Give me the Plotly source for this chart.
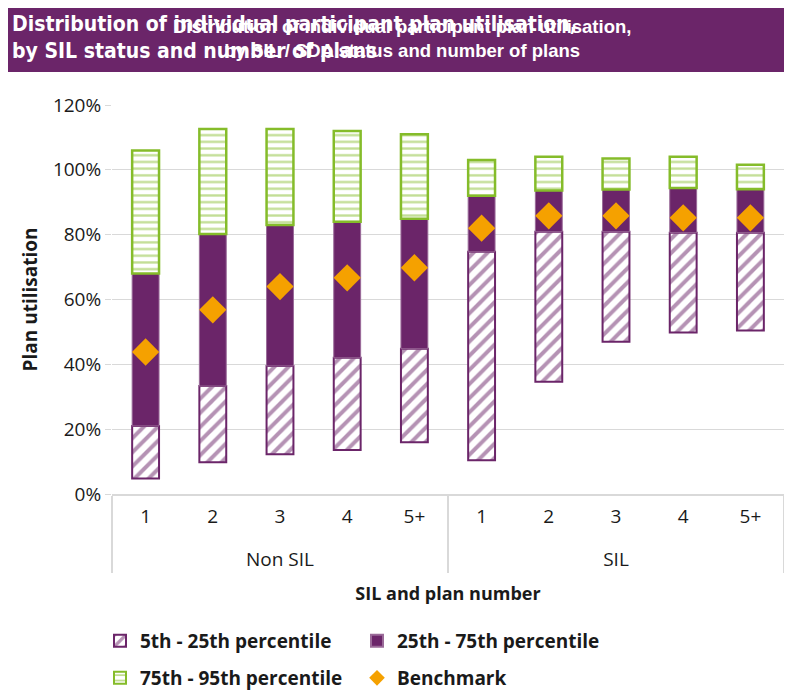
import plotly.graph_objects as go

groups = ["Non SIL"] * 5 + ["SIL"] * 5
plans = ["1", "2", "3", "4", "5+"] * 2

p5 = [0.048, 0.098, 0.123, 0.136, 0.160, 0.104, 0.346, 0.470, 0.498, 0.504]
p25 = [0.210, 0.333, 0.395, 0.420, 0.448, 0.747, 0.809, 0.809, 0.806, 0.806]
p75 = [0.680, 0.802, 0.830, 0.840, 0.849, 0.920, 0.936, 0.939, 0.944, 0.940]
p95 = [1.060, 1.126, 1.126, 1.120, 1.110, 1.030, 1.040, 1.035, 1.040, 1.016]
benchmark = [0.438, 0.568, 0.640, 0.667, 0.698, 0.820, 0.858, 0.858, 0.852, 0.852]

PURPLE = "#6B2569"
GREEN = "#85BC2A"
ORANGE = "#F5A100"

# a small blank second line under each plan label gives the group row more room
plan_labels = [p + "<br><span style='font-size:5px'>&nbsp;</span>" for p in plans]
x = [groups, plan_labels]

# the page body adds an 8px offset, so the figure is sized to fill the rest
OFF = 8
W, H = 792 - OFF, 690 - OFF
L, R, T, B = 112 - OFF, 8, 105 - OFF, 196
PW, PH = W - L - R, H - T - B


def px(xs):
    return (xs - OFF - L) / PW


def py(ys):
    return (H - B - (ys - OFF)) / PH


fig = go.Figure()
fig.add_trace(go.Bar(
    x=x, base=p5, y=[b - a for a, b in zip(p5, p25)],
    name="5th - 25th percentile", legend="legend",
    marker=dict(color="white", line=dict(color=PURPLE, width=2),
                pattern=dict(shape="/", fgcolor=PURPLE, bgcolor="white", size=10, solidity=0.4)),
))
fig.add_trace(go.Bar(
    x=x, base=p25, y=[b - a for a, b in zip(p25, p75)],
    name="25th - 75th percentile", legend="legend",
    marker=dict(color=PURPLE, line=dict(color="#9A6A98", width=1)),
))
fig.add_trace(go.Bar(
    x=x, base=p75, y=[b - a for a, b in zip(p75, p95)],
    name="75th - 95th percentile", legend="legend2",
    marker=dict(color="white", line=dict(color=GREEN, width=2.5),
                pattern=dict(shape="-", fgcolor=GREEN, bgcolor="white", size=6.7, solidity=0.35)),
))
fig.add_trace(go.Scatter(
    x=x, y=benchmark, mode="markers", name="Benchmark", legend="legend2",
    marker=dict(symbol="diamond", size=21, color=ORANGE),
))

FONT = "Open Sans, Noto Sans, sans-serif"
legend_common = dict(orientation="h", x=px(100), xanchor="left", yanchor="middle",
                     entrywidth=212, bgcolor="rgba(0,0,0,0)",
                     font=dict(size=19, color="#1a1a1a", family=FONT, weight="bold"),
                     traceorder="normal", itemsizing="constant")

fig.update_layout(
    width=W, height=H,
    margin=dict(l=L, r=R, t=T, b=B, autoexpand=False),
    barmode="overlay",
    bargap=0.6,
    plot_bgcolor="white", paper_bgcolor="white",
    font=dict(family=FONT, size=19, color="#1a1a1a"),
    showlegend=True,
    legend=dict(y=py(641), **legend_common),
    legend2=dict(y=py(678), **legend_common),
    xaxis=dict(type="multicategory", range=[-0.5, 9.5], showgrid=False, showline=True,
               linecolor="#D9D9D9", linewidth=1.5, showdividers=True, dividercolor="#D9D9D9",
               dividerwidth=1.5, tickfont=dict(size=19), ticks="", automargin=False,
               ticklabelstandoff=4,
               title=dict(text="<b>SIL and plan number</b>", font=dict(size=18), standoff=16)),
    yaxis=dict(range=[0, 1.2], dtick=0.2, tickformat=".0%", showgrid=True, gridcolor="#D9D9D9",
               gridwidth=1.2, zeroline=False, ticks="outside", ticklen=6, tickcolor="#D9D9D9",
               tickfont=dict(size=19), automargin=False,
               title=dict(text="<b>Plan utilisation</b>", font=dict(size=19), standoff=10)),
)

fig.add_shape(type="rect", xref="paper", yref="paper",
              x0=px(8), x1=px(785), y0=py(72), y1=py(2),
              fillcolor=PURPLE, line=dict(width=0), layer="below")

fig.add_annotation(xref="paper", yref="paper", x=px(10), y=py(10), xanchor="left", yanchor="top",
                   align="left", showarrow=False,
                   text="<b>Distribution of individual participant plan utilisation,<br>by SIL status and number of plans</b>",
                   font=dict(family="Liberation Sans Narrow, DejaVu Sans Condensed, sans-serif", size=21, color="white"))
fig.add_annotation(xref="paper", yref="paper", x=px(402), y=py(14), xanchor="center", yanchor="top",
                   align="center", showarrow=False,
                   text="<b>Distribution of individual participant plan utilisation,<br>by SIL / SDA status and number of plans</b>",
                   font=dict(family="Liberation Sans, Arial, sans-serif", size=18.5, color="white"))

fig.write_html("out.html")
